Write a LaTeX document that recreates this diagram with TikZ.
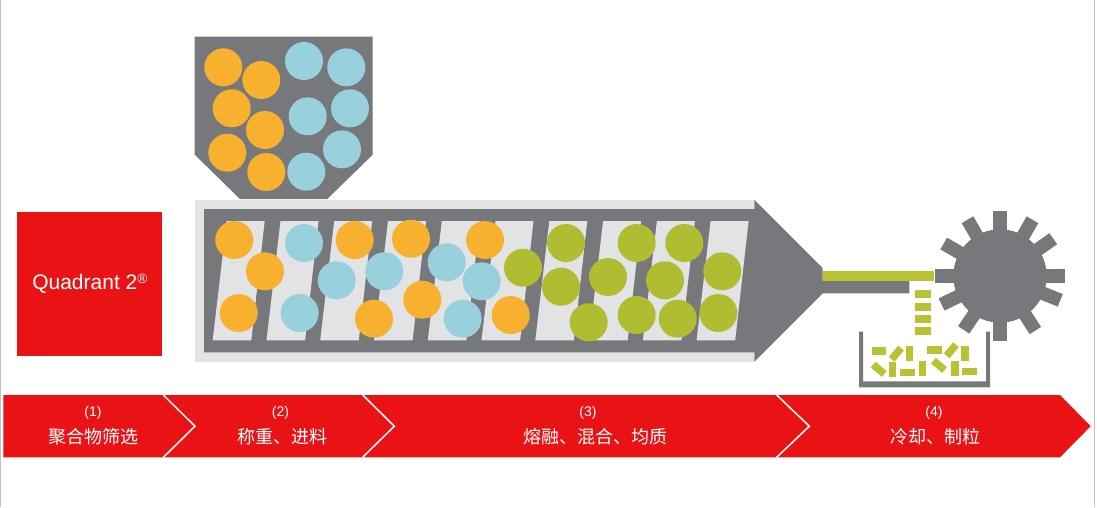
\documentclass[tikz,border=0pt]{standalone}
\usepackage{fontspec}
\setmainfont{Liberation Sans}
\newfontfamily\cjk{Noto Sans CJK SC}
\definecolor{stepred}{HTML}{E91316}
\definecolor{barrelgray}{HTML}{77787B}
\definecolor{barrellight}{HTML}{E1E3E5}
\definecolor{ballorange}{HTML}{F7B12E}
\definecolor{ballblue}{HTML}{98D1DC}
\definecolor{ballgreen}{HTML}{B0BD30}
\definecolor{pelletgreen}{HTML}{B9C232}
\tikzset{
	orangeball/.style = {circle, fill = ballorange, minimum size = 38pt, inner sep = 0pt, outer sep = 0pt},
	blueball/.style = {orangeball, fill = ballblue},
	greenball/.style = {orangeball, fill = ballgreen},
	pellet/.style = {rectangle, fill = pelletgreen, minimum width = 14.5pt, minimum height = 7.5pt, inner sep = 0pt, outer sep = 0pt},
	dropping/.style = {pellet, minimum width = 16pt, minimum height = 8pt},
	tooth/.style = {rectangle, fill = barrelgray, anchor = west, minimum width = 65pt, minimum height = 13.5pt, inner sep = 0pt, outer sep = 0pt},
	slot/.style = {fill = barrellight},
	chevron/.style = {draw = white, line width = 1.5pt},
	steplabel/.style = {text = white, font = \fontsize{14}{14}\selectfont, inner sep = 0pt},
	stepname/.style = {text = white, font = \fontsize{18}{18}\selectfont\cjk, inner sep = 0pt}
}

\begin{document}
\begin{tikzpicture}[x = 1pt, y = -1pt]
				\useasboundingbox (0,0) rectangle (1097,507);
				\draw [barrelgray!45, line width = 1pt] (0.5,0) -- (0.5,507);
				\draw [barrelgray!45, line width = 1pt] (1094.5,0) -- (1094.5,507);
				%
				\node (quadrant)[fill = stepred, minimum width = 145pt, minimum height = 144pt, inner sep = 0pt, text = white, font = \fontsize{21}{21}\selectfont] at (89.8,284){Quadrant 2\raisebox{6.5pt}{\fontsize{13.5}{13.5}\selectfont\char"00AE}};
				%
				\fill [barrelgray] (194.7,36.7) -- (372.7,36.7) -- (372.7,154.7) -- (327.3,199) -- (240,199) -- (194.7,154.7) -- cycle;
				\node (h1)[orangeball] at (223.3,67.3){};
				\node (h2)[orangeball] at (261.3,80){};
				\node (h3)[orangeball] at (231.7,108.3){};
				\node (h4)[orangeball] at (265,130){};
				\node (h5)[orangeball] at (227.3,152.7){};
				\node (h6)[orangeball] at (266.3,172){};
				\node (h7)[blueball] at (304,61){};
				\node (h8)[blueball] at (346.3,67.3){};
				\node (h9)[blueball] at (307.7,116.3){};
				\node (h10)[blueball] at (350,108.3){};
				\node (h11)[blueball] at (342,149.3){};
				\node (h12)[blueball] at (306.3,171.7){};
				%
				\fill [barrellight] (194.7,199.7) rectangle (754.3,362);
				\fill [barrelgray] (204,209) -- (754.3,209) -- (754.3,199.7) -- (822.7,268) -- (822.7,280.7) -- (909.3,280.7) -- (909.3,293.3) -- (822.7,293.3) -- (754.3,361.7) -- (754.3,352.3) -- (204,352.3) -- cycle;
				\fill [pelletgreen] (822.7,271) rectangle (934,280.7);
				%
				\fill [slot] (226.7,221) -- (264.7,221) -- (251.3,340.3) -- (212.7,340.3) -- cycle;
				\fill [slot] (280.5,221) -- (318.5,221) -- (305.1,340.3) -- (266.5,340.3) -- cycle;
				\fill [slot] (334.2,221) -- (372.2,221) -- (358.8,340.3) -- (320.2,340.3) -- cycle;
				\fill [slot] (388,221) -- (426,221) -- (412.6,340.3) -- (374,340.3) -- cycle;
				\fill [slot] (441.8,221) -- (479.8,221) -- (466.4,340.3) -- (427.8,340.3) -- cycle;
				\fill [slot] (495.5,221) -- (533.5,221) -- (520.1,340.3) -- (481.5,340.3) -- cycle;
				\fill [slot] (549.3,221) -- (587.3,221) -- (573.9,340.3) -- (535.3,340.3) -- cycle;
				\fill [slot] (603.1,221) -- (641.1,221) -- (627.7,340.3) -- (589.1,340.3) -- cycle;
				\fill [slot] (656.9,221) -- (694.9,221) -- (681.5,340.3) -- (642.9,340.3) -- cycle;
				\fill [slot] (710.6,221) -- (748.6,221) -- (735.2,340.3) -- (696.6,340.3) -- cycle;
				%
				\node (b1)[orangeball] at (234.3,240){};
				\node (b2)[orangeball] at (265,271.3){};
				\node (b3)[orangeball] at (238.7,313){};
				\node (b4)[orangeball] at (354.7,240){};
				\node (b5)[orangeball] at (374,318.7){};
				\node (b6)[orangeball] at (411,238.7){};
				\node (b7)[orangeball] at (422.3,299.7){};
				\node (b8)[orangeball] at (485,240){};
				\node (b9)[orangeball] at (510.7,315){};
				\node (b10)[blueball] at (304,243){};
				\node (b11)[blueball] at (299.7,313){};
				\node (b12)[blueball] at (336.7,280.3){};
				\node (b13)[blueball] at (384.3,271.3){};
				\node (b14)[blueball] at (446.7,262.3){};
				\node (b15)[blueball] at (462.7,318.7){};
				\node (b16)[blueball] at (481.7,281.3){};
				\node (b17)[greenball] at (523,267.7){};
				\node (b18)[greenball] at (566,243){};
				\node (b19)[greenball] at (561,286.7){};
				\node (b20)[greenball] at (588.7,322.3){};
				\node (b21)[greenball] at (608,277){};
				\node (b22)[greenball] at (636.7,243){};
				\node (b23)[greenball] at (636.7,315){};
				\node (b24)[greenball] at (684.3,243){};
				\node (b25)[greenball] at (665,280.3){};
				\node (b26)[greenball] at (677.7,318.7){};
				\node (b27)[greenball] at (722.3,271.3){};
				\node (b28)[greenball] at (718.3,313){};
				%
				\node (gear)[circle, fill = barrelgray, minimum size = 93.4pt, inner sep = 0pt] at (1000,276){};
				\node (t1)[tooth] at (gear.center){};
				\node (t2)[tooth, rotate = 35] at (gear.center){};
				\node (t3)[tooth, rotate = 60] at (gear.center){};
				\node (t4)[tooth, rotate = 90] at (gear.center){};
				\node (t5)[tooth, rotate = 120] at (gear.center){};
				\node (t6)[tooth, rotate = 150] at (gear.center){};
				\node (t7)[tooth, rotate = 180] at (gear.center){};
				\node (t8)[tooth, rotate = 206] at (gear.center){};
				\node (t9)[tooth, rotate = 236] at (gear.center){};
				\node (t10)[tooth, rotate = 270] at (gear.center){};
				\node (t11)[tooth, rotate = 303] at (gear.center){};
				\node (t12)[tooth, rotate = 338] at (gear.center){};
				%
				\node (d1)[dropping] at (922.7,294){};
				\node (d2)[dropping] at (922.7,306.7){};
				\node (d3)[dropping] at (922.7,319){};
				\node (d4)[dropping] at (922.7,331.3){};
				%
				\fill [barrelgray] (859,331.7) -- (863,331.7) -- (863,381.3) -- (986,381.3) -- (986,331.7) -- (990,331.7) -- (990,387.3) -- (859,387.3) -- cycle;
				\node (p1)[pellet] at (879,351){};
				\node (p2)[pellet, rotate = 50] at (896.3,353.7){};
				\node (p3)[pellet, rotate = 90] at (909.3,353.7){};
				\node (p4)[pellet] at (934.3,350){};
				\node (p5)[pellet, rotate = 50] at (951.3,350.3){};
				\node (p6)[pellet, rotate = 90] at (965,353.7){};
				\node (p7)[pellet, rotate = -40] at (878.7,369.3){};
				\node (p8)[pellet, rotate = 90] at (892.7,369.3){};
				\node (p9)[pellet] at (907.3,372.7){};
				\node (p10)[pellet, rotate = 90] at (922.3,368.3){};
				\node (p11)[pellet, rotate = -40] at (939,365.3){};
				\node (p12)[pellet, rotate = 90] at (955,368.3){};
				\node (p13)[pellet] at (969.3,371.7){};
				%
				\fill [stepred] (3.3,395) -- (1060,395) -- (1090.7,426.2) -- (1060,457.3) -- (3.3,457.3) -- cycle;
				\draw [chevron] (163.3,395) -- (195,426.2) -- (163.3,457.3);
				\draw [chevron] (362.7,395) -- (394.3,426.2) -- (362.7,457.3);
				\draw [chevron] (776.7,395) -- (809.3,426.2) -- (776.7,457.3);
				%
				\node (n1)[steplabel] at (93,413){(1)};
				\node (s1)[stepname] at (93,437){聚合物筛选};
				\node (n2)[steplabel] at (280.5,413){(2)};
				\node (s2)[stepname] at (282,437){称重、进料};
				\node (n3)[steplabel] at (588,413){(3)};
				\node (s3)[stepname] at (595,437){熔融、混合、均质};
				\node (n4)[steplabel] at (934,413){(4)};
				\node (s4)[stepname] at (935,437){冷却、制粒};
			\end{tikzpicture}
\end{document}
